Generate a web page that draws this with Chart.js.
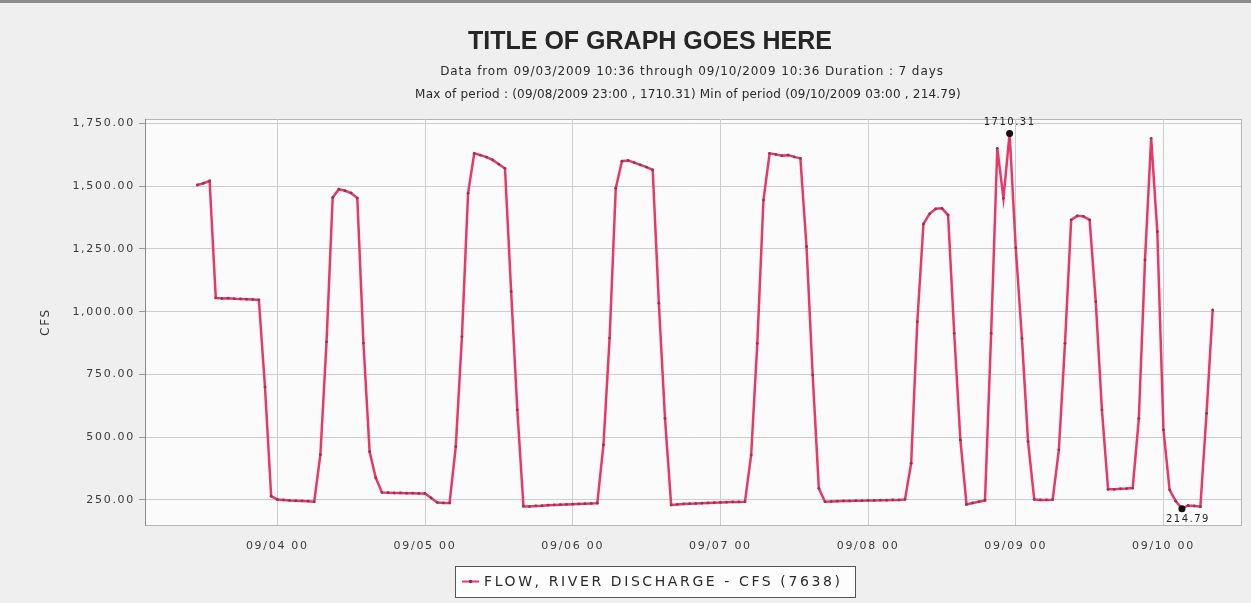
<!DOCTYPE html>
<html>
<head>
<meta charset="utf-8">
<script src="https://cdn.jsdelivr.net/npm/chart.js@4.4.1/dist/chart.umd.min.js"></script>
<style>
  html, body { margin: 0; padding: 0; background: #efefef; }
</style>
</head>
<body>
<canvas id="myChart" width="1251" height="603"></canvas>
<script>
// hours are counted from 09/03/2009 00:00, one reading per hour
var startHour = 11;
var flow = [
  1505, 1512, 1521, 1055, 1053, 1054, 1052, 1051, 1050, 1049, 1047, 700, 265,
  252, 250, 248, 247, 246, 245, 243, 430, 880, 1455, 1488, 1482, 1473, 1453, 875, 442, 338, 280, 279, 278, 278, 277, 277, 276, 276,
  258, 240, 238, 238, 462, 900, 1472, 1631, 1624, 1616, 1605, 1588, 1571, 1080, 609, 225, 224, 226, 227, 229, 230, 231, 232, 233, 234, 235, 236, 237,
  469, 895, 1492, 1600, 1603, 1594, 1585, 1576, 1565, 1034, 575, 230, 232, 234, 235, 236, 237, 238, 239, 240, 241, 242, 242, 243,
  429, 874, 1445, 1631, 1627, 1622, 1624, 1617, 1611, 1259, 748, 296, 243, 244, 245, 246, 246, 247, 247, 248, 248, 249, 249, 250, 250,
  252, 396, 960, 1350, 1390, 1410, 1412, 1385, 914, 489, 232, 238, 243, 248, 914, 1651, 1452, 1710.31, 1254, 894, 482, 252, 250, 250, 251,
  449, 874, 1366, 1382, 1380, 1366, 1040, 609, 292, 292, 294, 295, 297, 575, 1206, 1691, 1319, 529, 290, 245, 214.79, 228, 226, 223,
  595, 1007
];
var dayTicks = [24, 48, 72, 96, 120, 144, 168];
var yTicks = [250, 500, 750, 1000, 1250, 1500, 1750];
var titleText = 'TITLE OF GRAPH GOES HERE';
var subLines = [
  'Data from 09/03/2009 10:36 through 09/10/2009 10:36 Duration : 7 days',
  'Max of period : (09/08/2009 23:00 , 1710.31) Min of period (09/10/2009 03:00 , 214.79)'
];
var seriesName = 'FLOW, RIVER DISCHARGE - CFS (7638)';
var lineColor = '#e8386a';

var maxIdx = flow.indexOf(Math.max.apply(null, flow));
var minIdx = flow.indexOf(Math.min.apply(null, flow));

var points = [];
for (var i = 0; i < flow.length; i++) {
  points.push({ x: startHour + i, y: flow[i] });
}

function pad2(n) {
  return (n < 10 ? '0' : '') + n;
}

var framePlugin = {
  id: 'frame',
  beforeDraw: function (chart) {
    var c = chart.ctx;
    var a = chart.chartArea;
    c.save();
    c.fillStyle = '#efefef';
    c.fillRect(0, 0, chart.width, chart.height);
    c.fillStyle = '#8c8c8c';
    c.fillRect(0, 0, chart.width, 3);
    c.fillStyle = '#fbfbfb';
    c.fillRect(a.left, a.top, a.right - a.left, a.bottom - a.top);
    c.strokeStyle = '#b5b5b5';
    c.lineWidth = 1;
    c.strokeRect(a.left + 0.5, a.top + 0.5, a.right - a.left, a.bottom - a.top);
    c.restore();
    c.letterSpacing = '1.7px';
  },
  afterDraw: function (chart) {
    var c = chart.ctx;
    c.save();
    c.letterSpacing = '0px';
    c.fillStyle = '#262626';
    c.textAlign = 'center';
    c.textBaseline = 'middle';
    c.font = 'bold 25px "Liberation Sans"';
    c.fillText(titleText, 650, 42);

    c.fillStyle = '#2a2a2a';
    c.font = '12px "DejaVu Sans"';
    c.letterSpacing = '0.9px';
    c.fillText(subLines[0], 692, 72);
    c.letterSpacing = '0.2px';
    c.fillText(subLines[1], 688, 95);

    // value labels at max / min
    var meta = chart.getDatasetMeta(0);
    var pMax = meta.data[maxIdx];
    var pMin = meta.data[minIdx];
    c.fillStyle = '#222';
    c.font = '10px "DejaVu Sans"';
    c.letterSpacing = '1.5px';
    c.fillText(flow[maxIdx].toFixed(2), pMax.x, pMax.y - 11);
    c.fillText(flow[minIdx].toFixed(2), pMin.x + 6, pMin.y + 11);

    // legend box
    var lx = 455, ly = 566, lw = 400, lh = 31;
    c.fillStyle = '#fdfdfd';
    c.fillRect(lx, ly, lw, lh);
    c.strokeStyle = '#555';
    c.lineWidth = 1;
    c.strokeRect(lx + 0.5, ly + 0.5, lw, lh);
    c.strokeStyle = lineColor;
    c.lineWidth = 2;
    c.beginPath();
    c.moveTo(lx + 7, ly + lh / 2);
    c.lineTo(lx + 24, ly + lh / 2);
    c.stroke();
    c.fillStyle = '#7d3346';
    c.beginPath();
    c.arc(lx + 15.5, ly + lh / 2, 1.8, 0, Math.PI * 2);
    c.fill();
    c.fillStyle = '#2a2a2a';
    c.textAlign = 'left';
    c.font = '14px "DejaVu Sans"';
    c.letterSpacing = '2.6px';
    c.fillText(seriesName, lx + 29, ly + lh / 2 + 1);
    c.restore();
    c.letterSpacing = '0px';
  }
};

var ctx = document.getElementById('myChart').getContext('2d');
var myChart = new Chart(ctx, {
  type: 'line',
  data: {
    datasets: [{
      label: seriesName,
      data: points,
      borderColor: lineColor,
      borderWidth: 2.5,
      tension: 0,
      fill: false,
      pointRadius: function (c) {
        return (c.dataIndex === maxIdx || c.dataIndex === minIdx) ? 3.5 : 1.4;
      },
      pointBackgroundColor: function (c) {
        return (c.dataIndex === maxIdx || c.dataIndex === minIdx) ? '#111' : '#8a3a50';
      },
      pointBorderWidth: 0
    }]
  },
  options: {
    responsive: false,
    animation: false,
    layout: { padding: { top: 119, right: 10, bottom: 48, left: 0 } },
    plugins: {
      legend: { display: false },
      tooltip: { enabled: false }
    },
    scales: {
      x: {
        type: 'linear',
        min: 2.5,
        max: 180.6,
        afterBuildTicks: function (scale) {
          scale.ticks = dayTicks.map(function (v) { return { value: v }; });
        },
        afterFit: function (scale) { scale.height = 30; },
        grid: { color: '#cdcdcd', drawTicks: false },
        border: { display: false },
        ticks: {
          autoSkip: false,
          maxRotation: 0,
          padding: 15,
          color: '#3a3a3a',
          font: { family: 'DejaVu Sans', size: 11 },
          callback: function (v) {
            return '09/' + pad2(3 + Math.floor(v / 24)) + ' 00';
          }
        }
      },
      y: {
        min: 150,
        max: 1768,
        afterBuildTicks: function (scale) {
          scale.ticks = yTicks.map(function (v) { return { value: v }; });
        },
        afterFit: function (scale) { scale.width = 145; },
        grid: { color: '#cdcdcd', tickLength: 6, tickColor: '#9a9a9a' },
        border: { display: true, color: '#8a8a8a' },
        title: {
          display: true,
          text: 'CFS',
          color: '#3a3a3a',
          font: { family: 'DejaVu Sans', size: 12 },
          padding: { top: 39, bottom: 0 }
        },
        ticks: {
          padding: 4,
          color: '#3a3a3a',
          font: { family: 'DejaVu Sans', size: 11 },
          callback: function (v) {
            return v.toLocaleString('en-US', { minimumFractionDigits: 2, maximumFractionDigits: 2 });
          }
        }
      }
    }
  },
  plugins: [framePlugin]
});
</script>
</body>
</html>
